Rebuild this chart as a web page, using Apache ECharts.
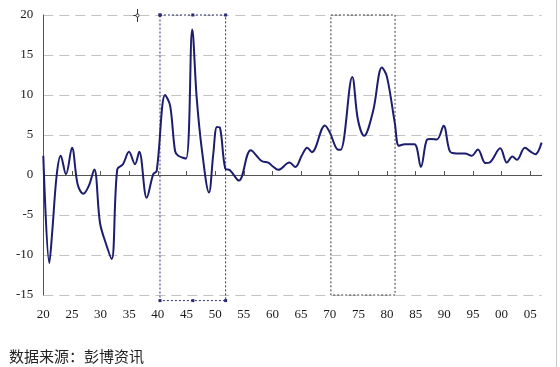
<!DOCTYPE html>
<html>
<head>
<meta charset="utf-8">
<script src="https://cdn.jsdelivr.net/npm/echarts@6/dist/echarts.min.js"></script>
<style>
html,body{margin:0;padding:0;background:#fff;}
#chart{width:560px;height:367px;}
</style>
</head>
<body>
<div id="chart"></div>
<script>
// Year positions (fractional) and values (%)
const years = [1920.00,1921.05,1921.57,1922.34,1923.04,1923.96,1925.01,1926.00,1926.98,1927.92,
  1928.90,1929.90,1930.94,1931.94,1932.91,1933.91,1934.96,1936.00,1936.75,1938.05,
  1939.20,1939.79,1941.26,1942.13,1943.00,1943.56,1944.91,1946.00,1946.77,1947.64,
  1948.92,1949.67,1950.31,1950.84,1951.76,1952.58,1954.15,1956.20,1958.12,1959.27,
  1960.03,1961.01,1962.97,1964.01,1965.10,1966.07,1966.89,1969.16,1970.03,1971.34,
  1971.90,1973.93,1974.92,1976.00,1977.54,1979.11,1979.98,1981.38,1982.08,1983.12,
  1984.78,1985.91,1986.96,1987.66,1988.71,1989.88,1990.98,1992.15,1993.60,1994.76,
  1995.86,1997.17,1997.87,1999.76,2000.92,2001.88,2002.67,2004.07,2005.11,2005.90,
  2006.98];
const values = [2.4,-11.0,-7.0,0.0,2.4,0.1,3.4,-1.2,-2.35,-1.4,
  0.7,-6.0,-8.6,-10.5,0.7,1.35,2.9,1.35,2.9,-2.85,
  0.1,0.5,10.0,8.7,3.0,2.4,2.05,18.2,9.7,3.4,
  -2.2,2.6,6.0,5.9,0.8,0.6,-0.7,3.1,1.75,1.55,
  1.1,0.65,1.55,1.0,2.4,3.4,2.85,6.2,5.3,3.2,
  3.15,12.25,6.9,4.9,7.9,13.45,12.3,6.4,3.65,3.85,
  3.85,1.0,4.4,4.5,4.45,6.15,2.95,2.7,2.7,2.4,
  3.2,1.5,1.55,3.35,1.55,2.3,1.9,3.4,2.9,2.6,
  4.05];
const xTickLabels = ["20","25","30","35","40","45","50","55","60","65","70","75","80","85","90","95","00","05"];
const yTicks = [-15,-10,-5,0,5,10,15,20];
// Highlight boxes (year range, value range)
const box1X = [1940.37, 1946.1, 1951.83];
const box1Y = [20, -15.7];
const box2X = [1970.2, 1981.4];
const box2Y = [20, -15];
const sourceText = "数据来源：彭博资讯";

const tickYears = xTickLabels.map((_, i) => 1920 + 5 * i);
const lineData = years.map((y, i) => [y, values[i]]);
const box1Data = [
  [box1X[0], box1Y[0]], [box1X[1], box1Y[0]], [box1X[2], box1Y[0]],
  [box1X[2], box1Y[1]], [box1X[1], box1Y[1]], [box1X[0], box1Y[1]], [box1X[0], box1Y[0]]
];
const box2Data = [
  [box2X[0], box2Y[0]], [box2X[1], box2Y[0]], [box2X[1], box2Y[1]],
  [box2X[0], box2Y[1]], [box2X[0], box2Y[0]]
];

const chart = echarts.init(document.getElementById('chart'), null, {renderer: 'canvas'});
const serif = '"Liberation Serif","DejaVu Serif",serif';
chart.setOption({
  animation: false,
  backgroundColor: '#fff',
  grid: {left: 43.3, right: 18.3, top: 15, bottom: 72},
  xAxis: [
    {
      type: 'value', min: 1920, max: 2007, position: 'bottom',
      axisLine: {show: false, onZero: false},
      axisTick: {show: false},
      splitLine: {show: false},
      axisLabel: {
        customValues: tickYears,
        margin: 13, color: '#1a1a1a', fontFamily: serif, fontSize: 13,
        formatter: v => { const i = Math.round((v - 1920) / 5); return xTickLabels[i] || ''; }
      }
    },
    {
      type: 'value', min: 1920, max: 2007, position: 'bottom',
      axisLine: {show: true, onZero: true, lineStyle: {color: '#555', width: 1}},
      axisTick: {show: true, inside: true, length: 4, customValues: tickYears, lineStyle: {color: '#555'}},
      axisLabel: {show: false},
      splitLine: {show: false}
    }
  ],
  yAxis: {
    type: 'value', min: -15, max: 20, interval: 5,
    axisLine: {show: true, lineStyle: {color: '#555', width: 1}},
    axisTick: {show: false},
    axisLabel: {margin: 10, color: '#1a1a1a', fontFamily: serif, fontSize: 13},
    splitLine: {show: true, lineStyle: {color: '#c4c4c4', width: 1, type: [10, 6]}}
  },
  series: [
    {
      type: 'line', xAxisIndex: 0, data: lineData, smooth: 0.35, symbol: 'none',
      lineStyle: {color: '#1d1d6e', width: 2}, z: 5
    },
    {
      type: 'line', xAxisIndex: 0, data: box1Data, smooth: false, clip: false,
      symbol: 'rect', symbolSize: 3, showSymbol: true,
      itemStyle: {color: '#2a2a70'},
      lineStyle: {color: '#2a2a70', width: 1, type: [2, 2]}, z: 3
    },
    {
      type: 'line', xAxisIndex: 0, data: box2Data, smooth: false, clip: false,
      symbol: 'none',
      lineStyle: {color: '#3a3a3a', width: 1, type: [2, 2]}, z: 3
    }
  ],
  graphic: [
    {type: 'text', left: 9, top: 349, style: {text: sourceText, fill: '#222', font: '15px "Noto Sans CJK SC", sans-serif'}},
    {type: 'line', shape: {x1: 131, y1: 15.5, x2: 144, y2: 15.5}, style: {stroke: '#333', lineWidth: 1}},
    {type: 'line', shape: {x1: 137.5, y1: 9, x2: 137.5, y2: 22}, style: {stroke: '#333', lineWidth: 1}},
    {type: 'circle', shape: {cx: 137.5, cy: 15.5, r: 1.6}, style: {stroke: '#333', fill: '#fff', lineWidth: 1}},
    {type: 'line', shape: {x1: 556.5, y1: 0, x2: 556.5, y2: 367}, style: {stroke: '#c8c8c8', lineWidth: 1}}
  ]
});
</script>
</body>
</html>
